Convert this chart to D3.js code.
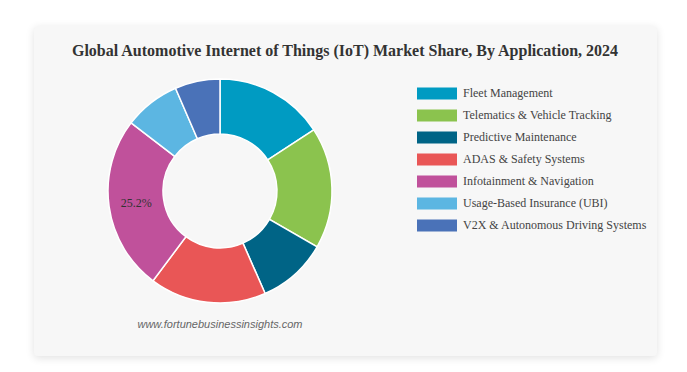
<!DOCTYPE html>
<html>
<head>
<meta charset="utf-8">
<script src="https://cdn.jsdelivr.net/npm/d3@7"></script>
<style>
  html, body { margin: 0; padding: 0; background: #fff; }
  #card {
    position: absolute; left: 34px; top: 26px; width: 623px; height: 330px;
    background: #f7f7f7; border-radius: 4px;
    box-shadow: 0 2px 8px rgba(0,0,0,0.12);
  }
  svg { position: absolute; left: 0; top: 0; }
</style>
</head>
<body>
<div id="card"></div>
<div id="chart"></div>
<script>
// Market share by application (%)
const categories = [
  'Fleet Management',
  'Telematics & Vehicle Tracking',
  'Predictive Maintenance',
  'ADAS & Safety Systems',
  'Infotainment & Navigation',
  'Usage-Based Insurance (UBI)',
  'V2X & Autonomous Driving Systems'
];
const shares = [15.8, 17.5, 10.1, 16.8, 25.2, 8.1, 6.5];
const colors = ['#009bc2', '#8bc34e', '#006486', '#e95656', '#c0519b', '#5cb6e2', '#4a72b8'];

const width = 687, height = 372;
const cx = 220, cy = 191;
const outerR = 112, innerR = 57;

const svg = d3.select('#chart').append('svg')
  .attr('width', width)
  .attr('height', height);

svg.append('text')
  .attr('x', 345)
  .attr('y', 56)
  .attr('text-anchor', 'middle')
  .style('font-family', '"Liberation Serif", "Times New Roman", serif')
  .style('font-weight', 'bold')
  .style('font-size', '16px')
  .style('fill', '#333')
  .text('Global Automotive Internet of Things (IoT) Market Share, By Application, 2024');

const data = categories.map((c, i) => ({ name: c, value: shares[i], color: colors[i] }));

const pie = d3.pie().value(d => d.value).sort(null);
const arc = d3.arc().innerRadius(innerR).outerRadius(outerR);

const g = svg.append('g').attr('transform', `translate(${cx},${cy})`);

const arcs = pie(data);
g.selectAll('path')
  .data(arcs)
  .join('path')
  .attr('d', arc)
  .attr('fill', d => d.data.color)
  .attr('stroke', '#fff')
  .attr('stroke-width', 1.5);

// only the biggest slice carries a label
const maxVal = d3.max(shares);
g.selectAll('text.lbl')
  .data(arcs.filter(d => d.data.value === maxVal))
  .join('text')
  .attr('class', 'lbl')
  .attr('transform', d => `translate(${arc.centroid(d)})`)
  .attr('text-anchor', 'middle')
  .attr('dy', '0.35em')
  .style('font-family', '"Liberation Serif", "Times New Roman", serif')
  .style('font-size', '12px')
  .style('fill', '#333')
  .text(d => d.data.value.toFixed(1) + '%');

// legend
const legend = svg.append('g').attr('transform', 'translate(417, 87.5)');
const rows = legend.selectAll('g')
  .data(data)
  .join('g')
  .attr('transform', (d, i) => `translate(0, ${i * 22})`);

rows.append('rect')
  .attr('width', 40)
  .attr('height', 12)
  .attr('fill', d => d.color);

rows.append('text')
  .attr('x', 46)
  .attr('y', 5.5)
  .attr('dy', '0.35em')
  .style('font-family', '"Liberation Serif", "Times New Roman", serif')
  .style('font-size', '12px')
  .style('fill', '#444')
  .text(d => d.name);

svg.append('text')
  .attr('x', 220)
  .attr('y', 328)
  .attr('text-anchor', 'middle')
  .style('font-family', '"Liberation Sans", Arial, sans-serif')
  .style('font-style', 'italic')
  .style('font-size', '11px')
  .style('fill', '#666')
  .text('www.fortunebusinessinsights.com');
</script>
</body>
</html>
